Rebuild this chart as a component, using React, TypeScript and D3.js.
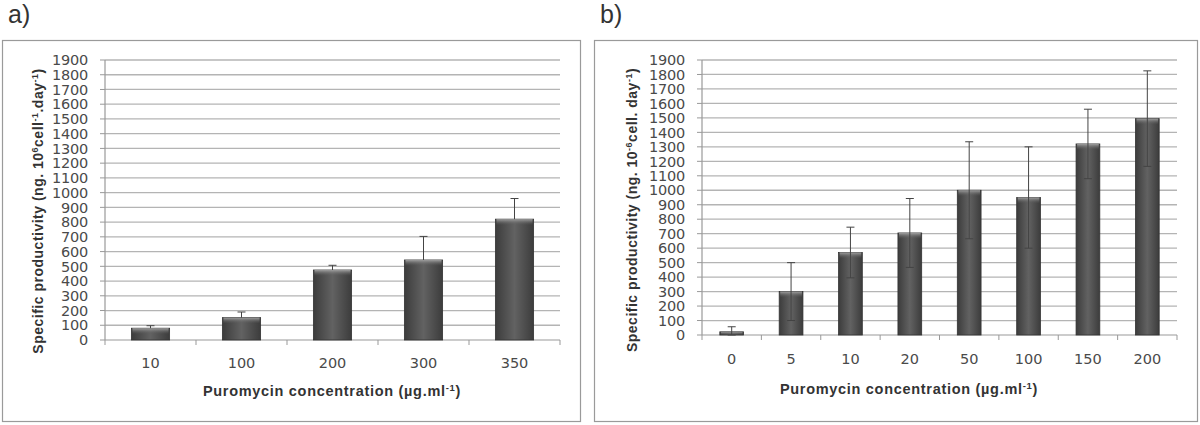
import React from "react";
import * as d3 from "d3";

const catsA = ["10", "100", "200", "300", "350"];
const valsA = [80, 152, 475, 543, 820];
const errA = [17, 38, 32, 160, 140];

const catsB = ["0", "5", "10", "20", "50", "100", "150", "200"];
const valsB = [22, 300, 570, 705, 1000, 950, 1320, 1495];
const errB = [35, 200, 175, 238, 335, 350, 240, 330];

const yTicks = d3.range(0, 2000, 100);

type PanelProps = {
  id: string;
  label: string;
  box: [number, number, number, number];
  plot: { x0: number; x1: number; y0: number; y1: number };
  cats: string[];
  vals: number[];
  errs: number[];
  both: boolean;
  pad: number;
  yTitle: React.ReactNode;
  yTitleX: number;
  yTitleY: number;
  xTitleX: number;
  xTitleY: number;
  tickLabelY: number;
};

function Panel(p: PanelProps) {
  const x = d3.scaleBand<string>().domain(p.cats).range([p.plot.x0, p.plot.x1]).paddingInner(p.pad).paddingOuter(p.pad / 2);
  const y = d3.scaleLinear().domain([0, 1900]).range([p.plot.y0, p.plot.y1]);
  const bounds = d3.range(p.cats.length + 1).map((i) => p.plot.x0 + i * ((p.plot.x1 - p.plot.x0) / p.cats.length));
  const [bx, by, bw, bh] = p.box;
  return (
    <g>
      <defs>
        <linearGradient id={`bar-${p.id}`} x1="0" x2="1" y1="0" y2="0">
          <stop offset="0" stopColor="#3c3c3c" />
          <stop offset="0.5" stopColor="#626262" />
          <stop offset="1" stopColor="#3c3c3c" />
        </linearGradient>
        <linearGradient id={`cap-${p.id}`} x1="0" x2="0" y1="0" y2="1">
          <stop offset="0" stopColor="#a0a0a0" />
          <stop offset="1" stopColor="#5a5a5a" stopOpacity="0" />
        </linearGradient>
      </defs>
      <rect x={bx + 0.5} y={by + 0.5} width={bw} height={bh} fill="#fff" stroke="#9a9a9a" strokeWidth={1.2} />
      <text x={bx + 6} y={by - 17} fontFamily="Liberation Sans, Arial, sans-serif" fontSize={25} fill="#333">{p.label}</text>
      {yTicks.map((t) => (
        <g key={t}>
          {t > 0 && (
            <line x1={p.plot.x0} x2={p.plot.x1} y1={y(t)} y2={y(t)} stroke="#b4b4b4" strokeWidth={1.3} />
          )}
          <line x1={p.plot.x0 - 5} x2={p.plot.x0} y1={y(t)} y2={y(t)} stroke="#999" strokeWidth={1} />
          <text x={p.plot.x0 - 17} y={y(t)} dy="0.36em" textAnchor="end" fontFamily="DejaVu Sans, sans-serif" fontSize={14.5} fill="#4a4a4a" letterSpacing={-0.2}>
            {t}
          </text>
        </g>
      ))}
      <line x1={p.plot.x0} x2={p.plot.x0} y1={p.plot.y0} y2={p.plot.y1} stroke="#999" strokeWidth={1.2} />
      <line x1={p.plot.x0} x2={p.plot.x1} y1={p.plot.y0} y2={p.plot.y0} stroke="#999" strokeWidth={1.2} />
      {bounds.map((b, i) => (
        <line key={i} x1={b} x2={b} y1={p.plot.y0} y2={p.plot.y0 + 5} stroke="#999" strokeWidth={1} />
      ))}
      {p.cats.map((c, i) => {
        const bx0 = x(c)!;
        const w = x.bandwidth();
        const top = y(p.vals[i]);
        const cx = bx0 + w / 2;
        const eTop = y(p.vals[i] + p.errs[i]);
        const eBot = p.both ? y(Math.max(0, p.vals[i] - p.errs[i])) : top;
        return (
          <g key={c}>
            <rect x={bx0} y={top} width={w} height={p.plot.y0 - top} fill={`url(#bar-${p.id})`} stroke="#333" strokeWidth={0.8} />
            <rect x={bx0 + 1} y={top} width={w - 2} height={Math.min(6, p.plot.y0 - top)} fill={`url(#cap-${p.id})`} />
            <line x1={cx} x2={cx} y1={eTop} y2={eBot} stroke="#444" strokeWidth={1} />
            <line x1={cx - 4} x2={cx + 4} y1={eTop} y2={eTop} stroke="#444" strokeWidth={1} />
            {p.both && <line x1={cx - 4} x2={cx + 4} y1={eBot} y2={eBot} stroke="#444" strokeWidth={1} />}
            <text x={cx} y={p.tickLabelY} textAnchor="middle" fontFamily="DejaVu Sans, sans-serif" fontSize={14.5} fill="#4a4a4a">
              {c}
            </text>
          </g>
        );
      })}
      <text x={p.xTitleX} y={p.xTitleY} textAnchor="middle" fontFamily="Liberation Sans, Arial, sans-serif" fontWeight="bold" fontSize={14.5} letterSpacing={0.7} fill="#333">
        Puromycin concentration (µg.ml<tspan dy="-5" fontSize={9.5}>-1</tspan><tspan dy="5">)</tspan>
      </text>
      <text transform={`translate(${p.yTitleX},${p.yTitleY}) rotate(-90)`} textAnchor="middle" fontFamily="Liberation Sans, Arial, sans-serif" fontWeight="bold" fontSize={14} letterSpacing={0.5} fill="#333">
        {p.yTitle}
      </text>
    </g>
  );
}

export default function App() {
  return (
    <svg width={1200} height={425} style={{ position: "absolute", left: 0, top: 0, background: "#fff" }}>
      <rect width={1200} height={425} fill="#fff" />
      <Panel
        id="a"
        label="a)"
        box={[2, 40, 578, 381]}
        plot={{ x0: 105, x1: 560, y0: 340, y1: 60 }}
        cats={catsA}
        vals={valsA}
        errs={errA}
        both={false}
        pad={0.58}
        yTitle={
          <>
            Specific productivity (ng. 10<tspan dy="-5" fontSize={9}>6</tspan>
            <tspan dy="5">cell</tspan><tspan dy="-5" fontSize={9}>-1</tspan>
            <tspan dy="5">.day</tspan><tspan dy="-5" fontSize={9}>-1</tspan>
            <tspan dy="5">)</tspan>
          </>
        }
        yTitleX={43}
        yTitleY={211}
        xTitleX={332}
        xTitleY={396}
        tickLabelY={368}
      />
      <Panel
        id="b"
        label="b)"
        box={[594, 40, 603, 381]}
        plot={{ x0: 702, x1: 1177, y0: 335, y1: 60 }}
        cats={catsB}
        vals={valsB}
        errs={errB}
        both={true}
        pad={0.6}
        yTitle={
          <>
            Specific productivity (ng. 10<tspan dy="-5" fontSize={9}>-6</tspan>
            <tspan dy="5">cell. day</tspan><tspan dy="-5" fontSize={9}>-1</tspan>
            <tspan dy="5">)</tspan>
          </>
        }
        yTitleX={637}
        yTitleY={210}
        xTitleX={909}
        xTitleY={394}
        tickLabelY={364}
      />
    </svg>
  );
}
